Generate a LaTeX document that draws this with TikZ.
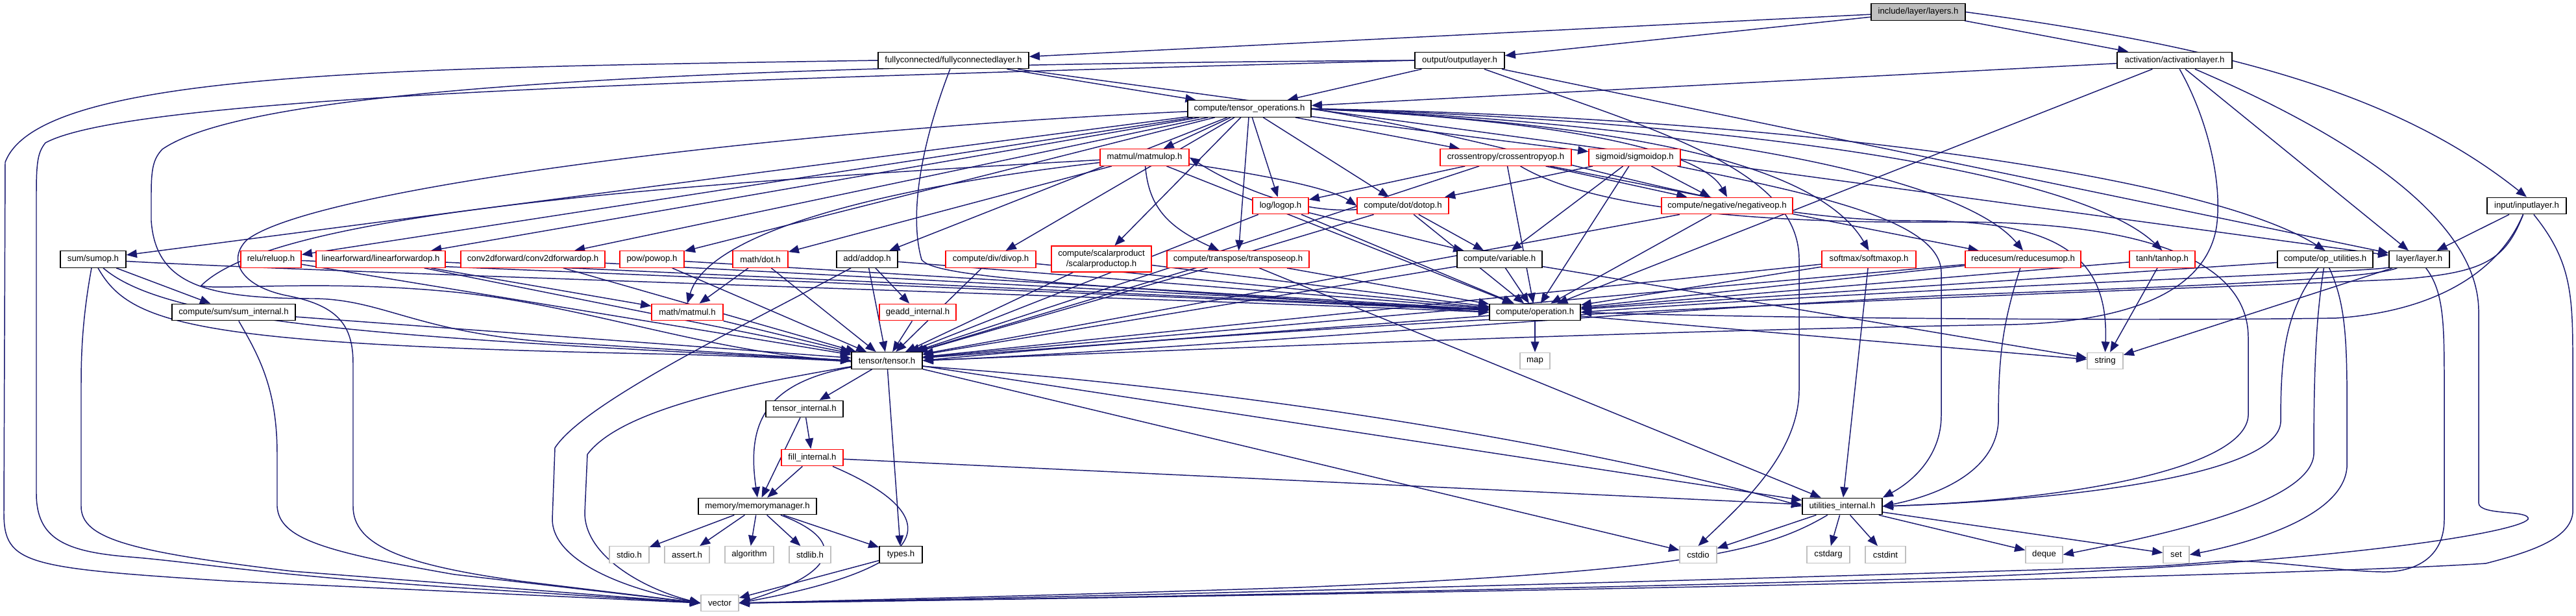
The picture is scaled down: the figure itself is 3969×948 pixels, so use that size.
\documentclass[tikz,border=0pt]{standalone}
\usepackage{fontspec}
\setmainfont{Liberation Sans}
\usetikzlibrary{arrows.meta}
\definecolor{edgec}{HTML}{191970}
\definecolor{grayb}{HTML}{BFBFBF}
\definecolor{redb}{HTML}{FF0000}
\pgfdeclarelayer{bg}
\pgfsetlayers{bg,main}
\begin{document}
\begin{tikzpicture}[x=0.01cm,y=-0.01cm,
 nd/.style={rectangle,inner sep=0pt,line width=0.4pt,minimum height=0.255cm,font=\fontsize{3.75}{4.6}\selectfont,fill=white,align=center},
 blk/.style={nd,draw=black},
 redn/.style={nd,draw=redb},
 sys/.style={nd,draw=grayb},
 root/.style={nd,draw=black,fill=grayb},
 e/.style={draw=edgec,line width=0.42pt,-{Triangle[length=4.6pt,width=3.6pt]}}]
\useasboundingbox (0,0) rectangle (3969,948);
% nodes
\node[root,minimum width=1.45cm] (layers) at (2955.5,18.5) {include/layer/layers.h};
\node[blk,minimum width=2.32cm] (fc) at (1469,93) {fullyconnected/fullyconnectedlayer.h};
\node[blk,minimum width=1.38cm] (output) at (2249,93) {output/outputlayer.h};
\node[blk,minimum width=1.77cm] (activ) at (3350.5,93) {activation/activationlayer.h};
\node[blk,minimum width=1.90cm] (tops) at (1925,167.5) {compute/tensor\_operations.h};
\node[redn,minimum width=1.37cm] (matmulop) at (1763.5,242.5) {matmul/matmulop.h};
\node[redn,minimum width=2.02cm] (crossent) at (2320,242.5) {crossentropy/crossentropyop.h};
\node[redn,minimum width=1.41cm] (sigmoid) at (2518.5,242.5) {sigmoid/sigmoidop.h};
\node[redn,minimum width=0.86cm] (logop) at (1973,317) {log/logop.h};
\node[redn,minimum width=1.41cm] (dotop) at (2161.5,317) {compute/dot/dotop.h};
\node[redn,minimum width=2.02cm] (negop) at (2661,317) {compute/negative/negativeop.h};
\node[blk,minimum width=1.22cm] (input) at (3893,317) {input/inputlayer.h};
\node[blk,minimum width=1.01cm] (sumop) at (143.5,399.5) {sum/sumop.h};
\node[redn,minimum width=0.93cm] (relu) at (417.5,399.5) {relu/reluop.h};
\node[redn,minimum width=1.99cm] (linfwd) at (586.5,399.5) {linearforward/linearforwardop.h};
\node[redn,minimum width=2.22cm] (conv) at (821,399.5) {conv2dforward/conv2dforwardop.h};
\node[redn,minimum width=0.99cm] (pow) at (1004.5,399.5) {pow/powop.h};
\node[redn,minimum width=0.85cm] (mdot) at (1171.5,399.5) {math/dot.h};
\node[blk,minimum width=0.94cm] (addop) at (1336,399.5) {add/addop.h};
\node[redn,minimum width=1.39cm] (divop) at (1526.5,399.5) {compute/div/divop.h};
\node[redn,minimum width=1.54cm,minimum height=0.40cm] (scalar) at (1697,399) {compute/scalarproduct\\/scalarproductop.h};
\node[redn,minimum width=2.19cm] (transp) at (1907.5,399.5) {compute/transpose/transposeop.h};
\node[blk,minimum width=1.31cm] (variable) at (2310.5,399.5) {compute/variable.h};
\node[redn,minimum width=1.45cm] (softmax) at (2879.5,399.5) {softmax/softmaxop.h};
\node[redn,minimum width=1.78cm] (reduce) at (3117,399.5) {reducesum/reducesumop.h};
\node[redn,minimum width=1.01cm] (tanh) at (3331.5,399.5) {tanh/tanhop.h};
\node[blk,minimum width=1.47cm] (oputil) at (3582.5,399.5) {compute/op\_utilities.h};
\node[blk,minimum width=0.93cm] (layer) at (3727.5,399.5) {layer/layer.h};
\node[blk,minimum width=1.90cm] (suminternal) at (360,481) {compute/sum/sum\_internal.h};
\node[redn,minimum width=1.10cm] (matmul) at (1059,481) {math/matmul.h};
\node[redn,minimum width=1.18cm] (geadd) at (1414,481) {geadd\_internal.h};
\node[blk,minimum width=1.40cm] (operation) at (2365,481) {compute/operation.h};
\node[blk,minimum width=1.09cm] (tensor) at (1366.5,555.5) {tensor/tensor.h};
\node[sys,minimum width=0.46cm] (map) at (2365,556) {map};
\node[sys,minimum width=0.55cm] (string) at (3243.5,556) {string};
\node[blk,minimum width=1.19cm] (tinternal) at (1239.5,630) {tensor\_internal.h};
\node[redn,minimum width=0.95cm] (fill) at (1251.5,705) {fill\_internal.h};
\node[blk,minimum width=1.82cm] (memmgr) at (1167,780) {memory/memorymanager.h};
\node[blk,minimum width=1.23cm] (util) at (2838.5,780) {utilities\_internal.h};
\node[sys,minimum width=0.61cm] (stdio) at (969.5,854.5) {stdio.h};
\node[sys,minimum width=0.69cm] (assert) at (1058.5,854.5) {assert.h};
\node[sys,minimum width=0.75cm] (algorithm) at (1154.5,854.5) {algorithm};
\node[sys,minimum width=0.64cm] (stdlib) at (1248,854.5) {stdlib.h};
\node[blk,minimum width=0.66cm] (types) at (1388,854.5) {types.h};
\node[sys,minimum width=0.57cm] (cstdio) at (2616.5,854.5) {cstdio};
\node[sys,minimum width=0.66cm] (cstdarg) at (2817,854.5) {cstdarg};
\node[sys,minimum width=0.62cm] (cstdint) at (2905,854.5) {cstdint};
\node[sys,minimum width=0.57cm] (deque) at (3149.5,854.5) {deque};
\node[sys,minimum width=0.40cm] (set) at (3353,854.5) {set};
\node[sys,minimum width=0.58cm] (vector) at (1109,929) {vector};
% edges
\begin{pgfonlayer}{bg}
\draw[e] (layers) -- (fc);
\draw[e] (layers) -- (output);
\draw[e] (layers) -- (activ);
\draw[e] (layers.east) .. controls (3450,75) and (3700,150) .. (input.north);
% fc
\draw[e] (fc) -- (tops);
\draw[e] (fc.west) .. controls (600,105) and (60,110) .. (8,250) -- (6,790) .. controls (6,870) and (40,875) .. (350,895) -- (vector.west);
\draw[e] (fc) .. controls (1420,220) and (1400,330) .. (1420,400) .. controls (1440,430) and (1700,440) .. (operation.west);
\draw[e] (fc) -- (layer);
% output
\draw[e] (output) -- (tops);
\draw[e] (output.west) .. controls (1000,125) and (200,150) .. (70,220) .. controls (58,235) and (56,250) .. (56,300) -- (56,760) .. controls (56,830) and (100,850) .. (200,858) .. controls (300,866) and (400,885) .. (700,905) -- (vector.west);
\draw[e] (output.west) .. controls (1000,100) and (380,140) .. (250,230) .. controls (236,245) and (233,260) .. (233,300) -- (233,340) .. controls (240,440) and (320,460) .. (485,460) .. controls (600,462) and (650,520) .. (900,530) -- (tensor.west);
\draw[e] (output) -- (layer);
\draw[e] (output) .. controls (2550,200) and (2772,260) .. (2772,400) -- (2772,600) .. controls (2772,700) and (2680,780) .. (cstdio.north);
% activation
\draw[e] (activ) -- (tops);
\draw[e] (activ) -- (operation);
\draw[e] (activ) .. controls (3400,180) and (3425,280) .. (3415,350) .. controls (3400,440) and (3300,495) .. (3100,500) .. controls (2500,510) and (1800,540) .. (tensor.east);
\draw[e] (activ) -- (layer);
\draw[e] (activ) .. controls (3600,200) and (3819,330) .. (3819,480) -- (3819,775) .. controls (3820,795) and (3900,785) .. (3895,800) .. controls (3880,820) and (3600,870) .. (2969,891) .. controls (2400,908) and (1500,925) .. (vector.east);
% input
\draw[e] (input) -- (layer);
\draw[e] (input) .. controls (3860,400) and (3830,420) .. (3700,430) .. controls (3400,445) and (2200,480) .. (tensor.east);
\draw[e] (input) .. controls (3850,420) and (3750,480) .. (3600,490) .. controls (3300,495) and (2700,490) .. (operation.east);
\draw[e] (input) .. controls (3960,400) and (3964,450) .. (3964,550) -- (3964,790) .. controls (3960,830) and (3900,850) .. (3830,868) .. controls (3500,890) and (2000,918) .. (vector.east);
% layer
\draw[e] (layer) .. controls (3766,450) and (3766,500) .. (3766,600) -- (3766,800) .. controls (3766,860) and (3720,882) .. (3670,881) .. controls (3600,880) and (3480,860) .. (3415,865) .. controls (3380,868) and (3352,871) .. (3300,873) .. controls (2600,895) and (1600,922) .. (vector.east);
\draw[e] (layer) -- (string);
\draw[e] (layer) .. controls (3650,430) and (3400,440) .. (3000,455) .. controls (2500,480) and (1800,540) .. (tensor.east);
\draw[e] (layer) .. controls (3650,420) and (3000,440) .. (operation.east);
% tensor_operations
\foreach \t in {sumop,relu,linfwd,conv,pow,matmulop,addop,divop,scalar,transp,logop,dotop,crossent,sigmoid}
  \draw[e] (tops) -- (\t);
\draw[e] (tops.east) .. controls (2400,185) and (2620,230) .. (negop.north);
\draw[e] (tops.east) .. controls (2500,190) and (2800,250) .. (softmax.north);
\draw[e] (tops.east) .. controls (2600,190) and (3020,270) .. (reduce.north);
\draw[e] (tops.east) .. controls (2650,185) and (3200,260) .. (tanh.north);
\draw[e] (tops.east) .. controls (2750,180) and (3400,270) .. (oputil.north);
\draw[e] (tops) .. controls (1200,200) and (480,290) .. (380,370) .. controls (350,400) and (370,440) .. (440,455) .. controls (520,470) and (544,500) .. (544,560) -- (544,780) .. controls (544,840) and (620,870) .. (800,895) -- (vector.west);
\draw[e] (tops.east) .. controls (2400,230) and (2650,340) .. (2950,340) .. controls (3150,340) and (3250,380) .. (string.north);
% matmulop
\draw[e] (matmulop) .. controls (1350,290) and (1090,360) .. (matmul.north);
\draw[e] (matmulop) -- (mdot);
\draw[e] (matmulop) .. controls (1770,320) and (1800,350) .. (transp);
\draw[e] (matmulop) -- (operation);
\draw[e] (matmulop) .. controls (1000,285) and (420,330) .. (310,440) .. controls (330,448) and (500,430) .. (700,450) .. controls (900,470) and (1100,545) .. (tensor.west);
\draw[e] (matmulop) .. controls (1950,270) and (2050,290) .. (dotop.west);
\draw[e] (dotop) .. controls (2000,330) and (1900,285) .. (matmulop.east);
% sum
\draw[e] (sumop) -- (suminternal);
\draw[e] (sumop) .. controls (500,420) and (1800,460) .. (operation.west);
\draw[e] (sumop) .. controls (260,500) and (600,520) .. (tensor.west);
\draw[e] (sumop) .. controls (125,500) and (125,560) .. (125,600) -- (125,780) .. controls (125,830) and (200,850) .. (450,880) -- (vector.west);
\draw[e] (sumop) .. controls (200,500) and (300,530) .. (1000,545) .. controls (1800,560) and (2500,700) .. (util.west);
\draw[e] (suminternal) -- (tensor);
\draw[e] (suminternal) .. controls (400,550) and (427,600) .. (427,700) -- (427,780) .. controls (430,830) and (500,850) .. (700,885) -- (vector.west);
% simple ops
\foreach \s in {relu,linfwd,conv,pow,divop,scalar,transp,logop,dotop,negop,variable,softmax,reduce,crossent,sigmoid}
  \draw[e] (\s) -- (operation);
\foreach \s in {relu,linfwd,conv,pow,mdot,matmul,geadd,divop,scalar,transp,logop,dotop,negop,variable,softmax,reduce,crossent,addop,operation}
  \draw[e] (\s) -- (tensor);
\draw[e] (linfwd) -- (matmul);
\draw[e] (mdot) -- (matmul);
\draw[e] (addop) -- (geadd);
\draw[e] (addop) -- (operation);
\draw[e] (addop) .. controls (1150,500) and (900,620) .. (855,690) -- (851,800) .. controls (851,860) and (950,905) .. (vector.west);
\draw[e] (tensor) .. controls (1100,600) and (950,640) .. (905,700) -- (901,790) .. controls (901,860) and (1000,910) .. (vector.west);
\draw[e] (transp) -- (util);
\draw[e] (logop) -- (variable);
\draw[e] (dotop) -- (variable);
\draw[e] (crossent) -- (logop);
\draw[e] (crossent) -- (negop);
\draw[e] (crossent) -- (reduce);
\draw[e] (crossent) .. controls (2450,320) and (2700,345) .. (3000,342) .. controls (3300,340) and (3464,400) .. (3464,520) -- (3464,640) .. controls (3460,720) and (3200,770) .. (util.east);
\draw[e] (sigmoid) -- (dotop);
\draw[e] (sigmoid) -- (negop);
\draw[e] (sigmoid) -- (variable);
\draw[e] (sigmoid) .. controls (2800,300) and (2991,340) .. (2991,420) -- (2991,640) .. controls (2991,700) and (2950,740) .. (util.north east);
\draw[e] (variable) -- (string);
\draw[e] (softmax) -- (util);
\draw[e] (reduce) .. controls (3085,500) and (3079,550) .. (3079,650) .. controls (3075,720) and (3000,760) .. (util.east);
\draw[e] (tanh) -- (operation);
\draw[e] (tanh) -- (string);
\draw[e] (oputil) -- (operation);
\draw[e] (oputil) .. controls (3520,480) and (3514,550) .. (3514,650) .. controls (3510,730) and (3200,770) .. (util.east);
\draw[e] (oputil) .. controls (3570,480) and (3565,550) .. (3565,700) .. controls (3560,780) and (3300,830) .. (deque.east);
\draw[e] (oputil) .. controls (3620,480) and (3616,550) .. (3616,720) .. controls (3610,800) and (3450,840) .. (set.east);
\draw[e] (operation) -- (map);
\draw[e] (operation) -- (string);
% tensor and below
\draw[e] (tensor) -- (tinternal);
\draw[e] (tensor) .. controls (1180,590) and (1150,650) .. (memmgr.north);
\draw[e] (tensor) -- (types);
\draw[e] (tensor) -- (util);
\draw[e] (tensor) -- (cstdio);
\draw[e] (tinternal) -- (memmgr);
\draw[e] (tinternal) -- (fill);
\draw[e] (fill) -- (memmgr);
\draw[e] (fill) -- (util);
\draw[e] (fill) .. controls (1450,790) and (1460,870) .. (vector.east);
\foreach \t in {stdio,assert,algorithm,stdlib,types}
  \draw[e] (memmgr) -- (\t);
\draw[e] (memmgr) .. controls (1300,830) and (1300,880) .. (vector.east);
\draw[e] (types) -- (vector);
\foreach \t in {cstdio,cstdarg,cstdint,deque,set}
  \draw[e] (util) -- (\t);
\draw[e] (util) .. controls (2720,850) and (2600,880) .. (2000,905) .. controls (1600,918) and (1300,925) .. (vector.east);
\end{pgfonlayer}
\end{tikzpicture}
\end{document}
